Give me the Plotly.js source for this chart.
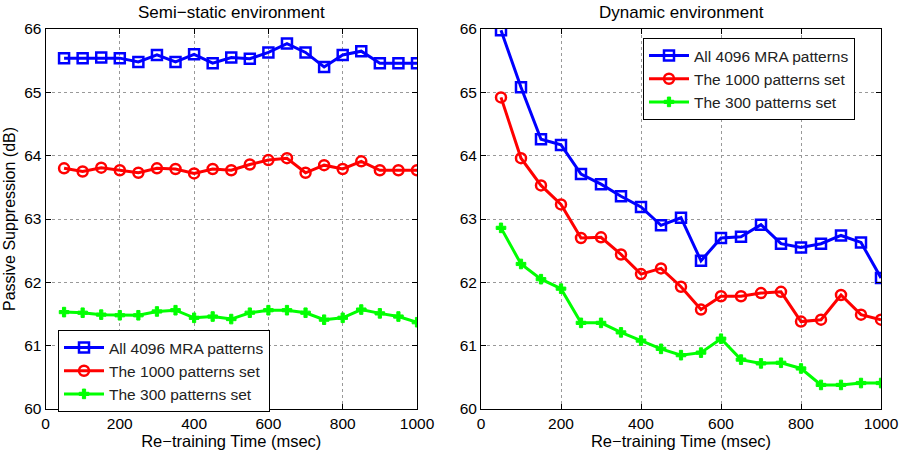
<!DOCTYPE html>
<html>
<head>
<meta charset="utf-8">
<script src="https://cdn.plot.ly/plotly-3.0.1.min.js"></script>
<style>html,body{margin:0;padding:0;background:#fff;}#chart{width:900px;height:455px;}</style>
</head>
<body>
<div id="chart"></div>
<script>
const retrainTime = [50,100,150,200,250,300,350,400,450,500,550,600,650,700,750,800,850,900,950,1000];
const seriesNames = ["All 4096 MRA patterns", "The 1000 patterns set", "The 300 patterns set"];
const panelTitles = ["Semi\u2212static environment", "Dynamic environment"];
const xTickVals = [0,200,400,600,800,1000];
const yTickVals = [60,61,62,63,64,65,66];

// Semi-static environment
const semiAll4096 = [65.54,65.54,65.55,65.54,65.48,65.59,65.48,65.60,65.46,65.55,65.53,65.63,65.77,65.63,65.40,65.59,65.65,65.46,65.46,65.46];
const semiSet1000 = [63.80,63.75,63.81,63.77,63.73,63.80,63.79,63.72,63.79,63.77,63.86,63.93,63.96,63.73,63.85,63.79,63.91,63.77,63.77,63.77];
const semiSet300  = [61.53,61.52,61.49,61.48,61.48,61.54,61.56,61.44,61.46,61.42,61.52,61.56,61.56,61.52,61.41,61.44,61.57,61.51,61.46,61.37];

// Dynamic environment
const dynAll4096 = [65.98,65.08,64.26,64.17,63.71,63.55,63.36,63.19,62.90,63.02,62.34,62.70,62.72,62.91,62.61,62.55,62.61,62.74,62.63,62.07];
const dynSet1000 = [64.92,63.96,63.53,63.23,62.70,62.71,62.44,62.13,62.22,61.93,61.57,61.78,61.78,61.83,61.85,61.38,61.41,61.80,61.49,61.41];
const dynSet300  = [62.86,62.29,62.05,61.90,61.36,61.36,61.21,61.08,60.95,60.85,60.89,61.11,60.78,60.72,60.73,60.64,60.38,60.38,60.41,60.41];

const styles = [
  {color:'#0000ff', symbol:'square-open', size:10, lw:2.5},
  {color:'#ff0000', symbol:'circle-open', size:10, lw:2.5},
  {color:'#00ff00', symbol:'cross', size:8, lw:1}
];

function mk(y, i, xa, ya, leg) {
  const s = styles[i];
  return {
    x: retrainTime, y: y, type:'scatter', mode:'lines+markers',
    name: seriesNames[i], xaxis: xa, yaxis: ya, legend: leg,
    line: {color: s.color, width: 3},
    marker: {symbol: s.symbol, size: s.size, color: s.color, line: {color: s.color, width: s.lw}}
  };
}

const data = [
  mk(semiAll4096,0,'x','y','legend'),
  mk(semiSet1000,1,'x','y','legend'),
  mk(semiSet300,2,'x','y','legend'),
  mk(dynAll4096,0,'x2','y2','legend2'),
  mk(dynSet1000,1,'x2','y2','legend2'),
  mk(dynSet300,2,'x2','y2','legend2')
];

const FONT = 'Liberation Sans, Arial, Helvetica, sans-serif';
function xax(dom, anchor) {
  return {
    domain: dom, anchor: anchor, range: [0,1000], tickvals: xTickVals,
    ticks:'inside', ticklen:5, tickcolor:'#000', showline:true, linecolor:'#000', linewidth:1, mirror:'ticks',
    showgrid:true, gridcolor:'#999999', griddash:'dot', gridwidth:1, zeroline:false,
    tickfont:{family:FONT, size:15.5, color:'#000'},
    title:{text:'Re\u2212training Time (msec)', font:{family:FONT, size:16.5, color:'#000'}, standoff: 1}
  };
}
function yax(dom, anchor, withTitle) {
  const a = {
    domain: dom, anchor: anchor, range: [60,66], tickvals: yTickVals,
    ticks:'inside', ticklen:5, tickcolor:'#000', showline:true, linecolor:'#000', linewidth:1, mirror:'ticks',
    showgrid:true, gridcolor:'#999999', griddash:'dot', gridwidth:1, zeroline:false,
    tickfont:{family:FONT, size:15.5, color:'#000'}
  };
  if (withTitle) a.title = {text:'Passive Suppression (dB)', font:{family:FONT, size:16, color:'#000'}, standoff: 4};
  return a;
}

const ydom = [46/455, 426/455];
const legendCommon = {
  bgcolor:'#ffffff', bordercolor:'#000', borderwidth:1,
  font:{family:FONT, size:15.5, color:'#222'}, xanchor:'left', yanchor:'top',
  tracegroupgap: 0, itemwidth: 40
};

const layout = {
  width: 900, height: 455,
  margin: {l:0, r:0, t:0, b:0},
  paper_bgcolor:'#fff', plot_bgcolor:'#fff',
  showlegend: true,
  xaxis: xax([45.5/900, 417/900], 'y'),
  yaxis: yax(ydom, 'x', true),
  xaxis2: xax([481/900, 881/900], 'y2'),
  yaxis2: yax(ydom, 'x2', false),
  legend: Object.assign({}, legendCommon, {x: 58/900, y: (455-330)/455}),
  legend2: Object.assign({}, legendCommon, {x: 643/900, y: (455-38)/455}),
  annotations: [
    {text: panelTitles[0], xref:'paper', yref:'paper', x: (45.5+417)/2/900, y: (455-12)/455, xanchor:'center', yanchor:'middle', showarrow:false, font:{family:FONT, size:17, color:'#000'}},
    {text: panelTitles[1], xref:'paper', yref:'paper', x: (481+881)/2/900, y: (455-12)/455, xanchor:'center', yanchor:'middle', showarrow:false, font:{family:FONT, size:17, color:'#000'}}
  ]
};

Plotly.newPlot('chart', data, layout, {displayModeBar:false, staticPlot:true});
</script>
</body>
</html>
